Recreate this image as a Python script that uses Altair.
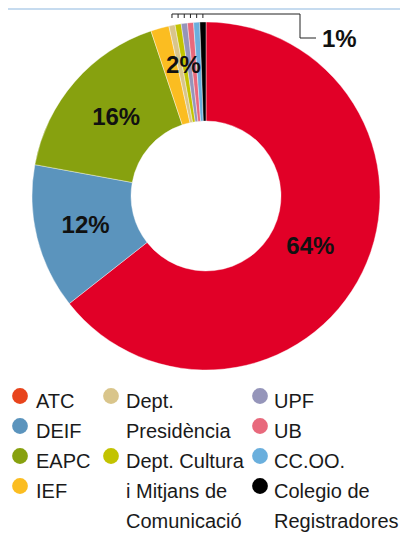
import math
import altair as alt
import pandas as pd

# ---------------- data ----------------
names = ["ATC", "DEIF", "EAPC", "IEF", "Dept. Presidència",
         "Dept. Cultura i Mitjans de Comunicació", "UPF", "UB", "CC.OO.",
         "Colegio de Registradores"]
values = [64.4, 13.5, 17.0, 1.7, 0.57, 0.57, 0.57, 0.57, 0.57, 0.57]
pct_labels = ["64%", "12%", "16%", "2%", "", "", "", "", "", "1%"]
legend_text = ["ATC", "DEIF", "EAPC", "IEF", "Dept.\nPresidència",
               "Dept. Cultura\ni Mitjans de\nComunicació", "UPF", "UB",
               "CC.OO.", "Colegio de\nRegistradores"]
slice_colors = ["#e10027", "#5b94bd", "#87a10f", "#fbbd21", "#d9c58b",
                "#c2c300", "#9595ba", "#e8697c", "#6aafdd", "#000000"]
legend_colors = ["#e8441c", "#5b94bd", "#87a10f", "#fbbd21", "#d9c58b",
                 "#c2c300", "#9595ba", "#e8697c", "#6aafdd", "#000000"]
legend_col = [0, 0, 0, 0, 1, 1, 2, 2, 2, 2]
legend_row = [0, 1, 2, 3, 0, 2, 0, 1, 2, 3]

# ---------------- layout ----------------
W, H = 392, 528
CX, CY = 198, 188
R_OUT, R_IN = 174, 75
label_radius = {0: 116, 1: 124, 2: 119, 3: 132}
label_shift = {3: 5.5}
small_first = 4
col_circle_x = [12, 103, 252]
col_text_x = [28, 118, 266]
row_base0, row_step = 400, 30
FONT = "Liberation Sans"

total = sum(values)
mids = []
acc = 0.0
for v in values:
    mids.append((acc + v / 2) / total * 360)
    acc += v

pie_df = pd.DataFrame({"name": names, "value": values, "idx": range(len(names))})

# percentage labels
lab_rows = []
for i, t in enumerate(pct_labels[:4]):
    a = math.radians(mids[i] + label_shift.get(i, 0))
    r = label_radius[i]
    lab_rows.append({"t": t, "px": CX + r * math.sin(a), "py": CY - r * math.cos(a)})
lab_df = pd.DataFrame(lab_rows)

# ticks for small slices
top_y = CY - R_OUT - 8
tick_rows = []
for i in range(small_first, len(values)):
    a = math.radians(mids[i])
    tick_rows.append({"px": CX + R_OUT * math.sin(a), "py": top_y, "py2": top_y + 4})
tick_df = pd.DataFrame(tick_rows)

elbow_x = 292
leader_df = pd.DataFrame({
    "px": [tick_rows[0]["px"], elbow_x, elbow_x, elbow_x + 16],
    "py": [top_y, top_y, top_y + 24, top_y + 24],
    "o": [0, 1, 2, 3],
})
one_df = pd.DataFrame({"t": [pct_labels[-1]], "px": [elbow_x + 22], "py": [top_y + 26]})

leg_df = pd.DataFrame({
    "t": legend_text,
    "name": names,
    "tx": [col_text_x[c] for c in legend_col],
    "cx": [col_circle_x[c] for c in legend_col],
    "by": [row_base0 + r * row_step for r in legend_row],
})
leg_df["cy"] = leg_df["by"] - 12

color_scale = alt.Scale(domain=names, range=slice_colors)
leg_color_scale = alt.Scale(domain=names, range=legend_colors)

top_band = alt.Chart(pd.DataFrame({"a": [0]})).mark_rule(
    color="#c6dbef", strokeWidth=2
).encode(x=alt.value(0), x2=alt.value(W), y=alt.value(1))

arcs = alt.Chart(pie_df).mark_arc(
    innerRadius=R_IN, outerRadius=R_OUT, stroke="white", strokeWidth=0.4
).encode(
    theta=alt.Theta("value:Q", stack=True),
    color=alt.Color("name:N", scale=color_scale, legend=None),
    order=alt.Order("idx:Q"),
    x=alt.value(CX), y=alt.value(CY),
)

labels = alt.Chart(lab_df).mark_text(
    font=FONT, fontSize=24, fontWeight="bold", color="#111111",
    align="center", baseline="middle"
).encode(
    x=alt.X("px:Q", scale=None, axis=None),
    y=alt.Y("py:Q", scale=None, axis=None),
    text="t:N",
)

ticks = alt.Chart(tick_df).mark_rule(color="#222222", strokeWidth=1).encode(
    x=alt.X("px:Q", scale=None, axis=None),
    y=alt.Y("py:Q", scale=None, axis=None),
    y2="py2:Q",
)

leader = alt.Chart(leader_df).mark_line(color="#222222", strokeWidth=1).encode(
    x=alt.X("px:Q", scale=None, axis=None),
    y=alt.Y("py:Q", scale=None, axis=None),
    order="o:Q",
)

one_lab = alt.Chart(one_df).mark_text(
    font=FONT, fontSize=24, fontWeight="bold", color="#111111",
    align="left", baseline="middle"
).encode(
    x=alt.X("px:Q", scale=None, axis=None),
    y=alt.Y("py:Q", scale=None, axis=None),
    text="t:N",
)

leg_dots = alt.Chart(leg_df).mark_point(filled=True, shape="circle", size=250, opacity=1).encode(
    x=alt.X("cx:Q", scale=None, axis=None),
    y=alt.Y("cy:Q", scale=None, axis=None),
    color=alt.Color("name:N", scale=leg_color_scale, legend=None),
)

leg_text = alt.Chart(leg_df).mark_text(
    font=FONT, fontSize=20, color="#1a1a1a", align="left",
    baseline="alphabetic", lineBreak="\n", lineHeight=row_step
).encode(
    x=alt.X("tx:Q", scale=None, axis=None),
    y=alt.Y("by:Q", scale=None, axis=None),
    text="t:N",
)

chart = alt.layer(
    top_band, arcs, labels, ticks, leader, one_lab, leg_dots, leg_text
).resolve_scale(color="independent").properties(
    width=W, height=H, padding=0, autosize="none"
).configure_view(strokeWidth=0)

chart.save("out.html", embed_options={"renderer": "svg", "actions": False})
